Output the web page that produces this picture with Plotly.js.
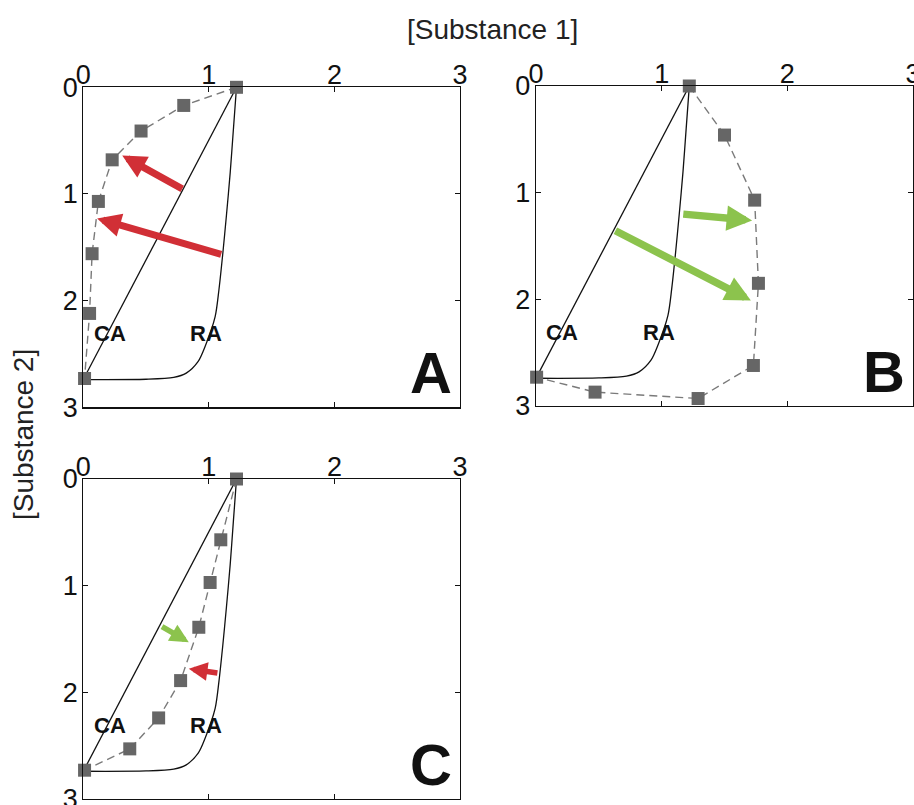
<!DOCTYPE html>
<html>
<head>
<meta charset="utf-8">
<script src="https://cdn.plot.ly/plotly-3.0.1.min.js"></script>
<style>html,body{margin:0;padding:0;background:#fff}#chart{width:914px;height:805px}</style>
</head>
<body>
<div id="chart"></div>
<script>
// ---- data ----
var tickVals = [0, 1, 2, 3];
var tickText = ['0', '1', '2', '3'];

// CA isobole (straight line)
var caX = [1.22, 0];
var caY = [0, 2.74];

// RA isobole
var raX = [1.22, 1.195, 1.17, 1.14, 1.11, 1.08, 1.05, 0.97, 0.915, 0.82, 0.72, 0.5, 0];
var raY = [0, 0.4, 0.8, 1.2, 1.57, 1.9, 2.15, 2.43, 2.57, 2.68, 2.72, 2.737, 2.74];

// observed mixtures
var aX = [1.22, 0.80, 0.46, 0.23, 0.12, 0.07, 0.05, 0.01];
var aY = [0, 0.17, 0.41, 0.68, 1.07, 1.56, 2.12, 2.73];

var bX = [1.22, 1.50, 1.74, 1.77, 1.73, 1.29, 0.47, 0.005];
var bY = [0, 0.46, 1.07, 1.85, 2.62, 2.93, 2.87, 2.73];

var cX = [1.22, 1.095, 1.01, 0.92, 0.775, 0.60, 0.37, 0.01];
var cY = [0, 0.57, 0.97, 1.39, 1.89, 2.24, 2.53, 2.73];

// arrows: [tailX, tailY, headX, headY]
var arrowsA = [[0.80, 0.96, 0.31, 0.64], [1.11, 1.57, 0.11, 1.23]];
var arrowsB = [[1.16, 1.20, 1.72, 1.26], [0.62, 1.35, 1.71, 2.01]];
var arrowsCgreen = [[0.615, 1.375, 0.84, 1.53]];
var arrowsCred = [[1.08, 1.82, 0.84, 1.78]];

var panelLetters = ['A', 'B', 'C'];
var isoLabels = ['CA', 'RA'];
var isoLabelX = [0.21, 0.98];
var isoLabelY = [2.31, 2.31];

// ---- style ----
var RED = '#d12f36';
var GREEN = '#8cc34d';
var FONT = 'Liberation Sans, Arial, Helvetica, sans-serif';

var panels = [
  {sx: 'x', sy: 'y', px: aX, py: aY},
  {sx: 'x2', sy: 'y2', px: bX, py: bY},
  {sx: 'x3', sy: 'y3', px: cX, py: cY}
];

var traces = [];
panels.forEach(function (p) {
  traces.push({x: caX, y: caY, xaxis: p.sx, yaxis: p.sy, mode: 'lines',
    line: {color: '#111', width: 1.3}, hoverinfo: 'skip', showlegend: false});
  traces.push({x: raX, y: raY, xaxis: p.sx, yaxis: p.sy, mode: 'lines',
    line: {color: '#111', width: 1.3, shape: 'spline', smoothing: 0.8}, hoverinfo: 'skip', showlegend: false});
  traces.push({x: p.px, y: p.py, xaxis: p.sx, yaxis: p.sy, mode: 'lines+markers',
    line: {color: '#7a7a7a', width: 1.4, dash: '8px,5px'},
    marker: {symbol: 'square', size: 13, color: '#666666'},
    cliponaxis: false, hoverinfo: 'skip', showlegend: false});
});

var annotations = [];
function addArrows(list, sx, sy, color, w, s) {
  list.forEach(function (a) {
    annotations.push({xref: sx, yref: sy, axref: sx, ayref: sy,
      x: a[2], y: a[3], ax: a[0], ay: a[1], text: '', showarrow: true,
      arrowhead: 2, arrowsize: s, arrowwidth: w, arrowcolor: color, standoff: 0});
  });
}
addArrows(arrowsA, 'x', 'y', RED, 7, 0.68);
addArrows(arrowsB, 'x2', 'y2', GREEN, 7.5, 0.68);
addArrows(arrowsCgreen, 'x3', 'y3', GREEN, 5.5, 0.68);
addArrows(arrowsCred, 'x3', 'y3', RED, 5.5, 0.68);

panels.forEach(function (p, i) {
  isoLabels.forEach(function (t, k) {
    annotations.push({xref: p.sx, yref: p.sy, x: isoLabelX[k], y: isoLabelY[k], text: '<b>' + t + '</b>',
      showarrow: false, font: {family: FONT, size: 22, color: '#111'}});
  });
  annotations.push({xref: p.sx + ' domain', yref: p.sy + ' domain', x: 0.985, y: 0.0, xanchor: 'right', yanchor: 'bottom',
    text: '<b>' + panelLetters[i] + '</b>', showarrow: false, font: {family: FONT, size: 58, color: '#111'}});
});

annotations.push({xref: 'paper', yref: 'paper', x: 492 / 914, y: 1 - 30 / 805, xanchor: 'center', yanchor: 'middle',
  text: '[Substance 1]', showarrow: false, font: {family: FONT, size: 28, color: '#222'}});
annotations.push({xref: 'paper', yref: 'paper', x: 23 / 914, y: 1 - 435 / 805, xanchor: 'center', yanchor: 'middle',
  text: '[Substance 2]', textangle: -90, showarrow: false, font: {family: FONT, size: 28, color: '#222'}});

function xax(dom, anchor) {
  return {domain: dom, anchor: anchor, range: [0, 3], side: 'top', tickvals: tickVals, ticktext: tickText,
    ticks: 'inside', ticklen: 5, tickcolor: '#111', mirror: 'ticks', showline: true, linecolor: '#111', linewidth: 1.2,
    showgrid: false, zeroline: false, fixedrange: true, ticklabelstandoff: -9, ticklabeloverflow: 'allow',
    tickfont: {family: FONT, size: 27, color: '#111'}};
}
function yax(dom, anchor) {
  return {domain: dom, anchor: anchor, range: [3, 0], tickvals: tickVals, ticktext: tickText,
    ticks: 'inside', ticklen: 5, tickcolor: '#111', mirror: 'ticks', showline: true, linecolor: '#111', linewidth: 1.2,
    showgrid: false, zeroline: false, fixedrange: true, ticklabelstandoff: -1, ticklabeloverflow: 'allow',
    tickfont: {family: FONT, size: 27, color: '#111'}};
}

var W = 914, H = 805;
var layout = {
  width: W, height: H, margin: {l: 0, r: 0, t: 0, b: 0},
  paper_bgcolor: '#fff', plot_bgcolor: '#fff', showlegend: false,
  xaxis: xax([83.3 / W, 460 / W], 'y'),
  yaxis: yax([1 - 407.3 / H, 1 - 87.3 / H], 'x'),
  xaxis2: xax([536 / W, 913 / W], 'y2'),
  yaxis2: yax([1 - 406 / H, 1 - 86 / H], 'x2'),
  xaxis3: xax([83.3 / W, 460 / W], 'y3'),
  yaxis3: yax([1 - 799 / H, 1 - 479 / H], 'x3'),
  annotations: annotations
};

Plotly.newPlot('chart', traces, layout, {displayModeBar: false, staticPlot: true});
</script>
</body>
</html>
